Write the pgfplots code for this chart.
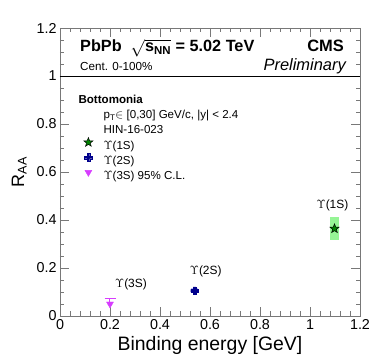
\documentclass[border=0pt]{standalone}
\usepackage{fontspec}
\setmainfont{Liberation Sans}
\usepackage{pgfplots}
\pgfplotsset{compat=1.18}
\usetikzlibrary{plotmarks}

\definecolor{frameGray}{RGB}{120,120,120}
\definecolor{oneSFill}{RGB}{0,130,0}
\definecolor{oneSBox}{RGB}{150,245,150}
\definecolor{twoSCol}{RGB}{0,0,140}
\definecolor{twoSBox}{RGB}{185,185,250}
\definecolor{threeSCol}{RGB}{215,60,255}

% filled five-point star
\pgfdeclareplotmark{fstar}{%
  \pgfpathmoveto{\pgfqpointpolar{90}{\pgfplotmarksize}}%
  \pgfpathlineto{\pgfqpointpolar{126}{0.42\pgfplotmarksize}}%
  \pgfpathlineto{\pgfqpointpolar{162}{\pgfplotmarksize}}%
  \pgfpathlineto{\pgfqpointpolar{198}{0.42\pgfplotmarksize}}%
  \pgfpathlineto{\pgfqpointpolar{234}{\pgfplotmarksize}}%
  \pgfpathlineto{\pgfqpointpolar{270}{0.42\pgfplotmarksize}}%
  \pgfpathlineto{\pgfqpointpolar{306}{\pgfplotmarksize}}%
  \pgfpathlineto{\pgfqpointpolar{342}{0.42\pgfplotmarksize}}%
  \pgfpathlineto{\pgfqpointpolar{18}{\pgfplotmarksize}}%
  \pgfpathlineto{\pgfqpointpolar{54}{0.42\pgfplotmarksize}}%
  \pgfpathclose
  \pgfusepathqfillstroke}
% thick filled cross (ROOT marker 34)
\pgfdeclareplotmark{fcross}{%
  \pgfpathmoveto{\pgfqpoint{0.35\pgfplotmarksize}{\pgfplotmarksize}}%
  \pgfpathlineto{\pgfqpoint{0.35\pgfplotmarksize}{0.35\pgfplotmarksize}}%
  \pgfpathlineto{\pgfqpoint{\pgfplotmarksize}{0.35\pgfplotmarksize}}%
  \pgfpathlineto{\pgfqpoint{\pgfplotmarksize}{-0.35\pgfplotmarksize}}%
  \pgfpathlineto{\pgfqpoint{0.35\pgfplotmarksize}{-0.35\pgfplotmarksize}}%
  \pgfpathlineto{\pgfqpoint{0.35\pgfplotmarksize}{-\pgfplotmarksize}}%
  \pgfpathlineto{\pgfqpoint{-0.35\pgfplotmarksize}{-\pgfplotmarksize}}%
  \pgfpathlineto{\pgfqpoint{-0.35\pgfplotmarksize}{-0.35\pgfplotmarksize}}%
  \pgfpathlineto{\pgfqpoint{-\pgfplotmarksize}{-0.35\pgfplotmarksize}}%
  \pgfpathlineto{\pgfqpoint{-\pgfplotmarksize}{0.35\pgfplotmarksize}}%
  \pgfpathlineto{\pgfqpoint{-0.35\pgfplotmarksize}{0.35\pgfplotmarksize}}%
  \pgfpathlineto{\pgfqpoint{-0.35\pgfplotmarksize}{\pgfplotmarksize}}%
  \pgfpathclose
  \pgfusepathqfillstroke}

\begin{document}
\begin{tikzpicture}
\useasboundingbox (-60bp,-43bp) rectangle (314bp,316bp);
\begin{axis}[
  at={(0,0)}, anchor=south west,
  scale only axis, width=300bp, height=288bp,
  xmin=0, xmax=1.2, ymin=0, ymax=1.2,
  xtick={0,0.2,0.4,0.6,0.8,1,1.2},
  ytick={0,0.2,0.4,0.6,0.8,1,1.2},
  minor x tick num=4, minor y tick num=3,
  tick align=inside,
  major tick length=9bp, minor tick length=4.5bp,
  axis line style={draw=frameGray, line width=0.8bp},
  every tick/.style={draw=frameGray, line width=0.8bp},
  tick label style={font=\fontsize{14.4}{16}\selectfont},
  /pgf/number format/assume math mode=true,
  xlabel={Binding energy [GeV]},
  xlabel style={font=\fontsize{19.5}{22}\selectfont,
                at={(axis description cs:0.5,-0.1215)}, anchor=base},
  ylabel={R\textsubscript{AA}},
  ylabel style={font=\fontsize{18}{20}\selectfont,
                at={(axis description cs:-0.12,0.5)}, anchor=base},
  clip=false,
  legend style={at={(axis description cs:0.0733,0.7765)}, anchor=north west,
                draw=none, fill=none, inner sep=0pt, row sep=0pt, column sep=0bp,
                font=\fontsize{11.6}{13}\selectfont,
                nodes={text height=10.8bp, text depth=4.2bp, inner ysep=0pt,
                       inner xsep=0pt}},
  legend cell align=left,
  legend image code/.code={%
    \path (-6bp,0) (15bp,0);
    \draw[#1] plot coordinates {(0bp,3.5bp)};},
]
%% header lines of the legend block
\addlegendimage{empty legend}
\addlegendentry{\hspace*{-25bp}\textbf{Bottomonia}}
\addlegendimage{empty legend}
\addlegendentry{p\textsubscript{T}$\in$ [0,30] GeV/c, |y| < 2.4}
\addlegendimage{empty legend}
\addlegendentry{HIN-16-023}

%% R_AA = 1 reference line
\addplot[black, line width=0.6bp, forget plot] coordinates {(0,1) (1.2,1)};

%% Upsilon(1S): systematic box + point
\addplot[draw=none, fill=oneSBox, forget plot]
  coordinates {(1.078,0.318) (1.117,0.318) (1.117,0.414) (1.078,0.414)} --cycle;
\addplot[only marks, mark=fstar, mark size=4.8bp,
         mark options={fill=oneSFill, draw=black, line width=0.5bp}]
  coordinates {(1.098,0.364)};
\addlegendentry{$\Upsilon$(1S)}

%% Upsilon(2S)
\addplot[draw=none, fill=twoSBox, forget plot]
  coordinates {(0.523,0.094) (0.553,0.094) (0.553,0.117) (0.523,0.117)} --cycle;
\addplot[only marks, mark=fcross, mark size=3.8bp,
         mark options={fill=twoSCol, draw=twoSCol, line width=0.3bp}]
  coordinates {(0.538,0.105)};
\addlegendentry{$\Upsilon$(2S)}

%% Upsilon(3S) upper limit (95% C.L.)
\addplot[threeSCol, line width=1bp, forget plot]
  coordinates {(0.179,0.072) (0.225,0.072)};
\addplot[threeSCol, line width=1bp, forget plot]
  coordinates {(0.2,0.072) (0.2,0.04)};
\addplot[only marks, mark=triangle*, mark size=4bp,
         mark options={fill=threeSCol, draw=threeSCol, rotate=180}]
  coordinates {(0.2,0.05)};
\addlegendentry{$\Upsilon$(3S) 95\% C.L.}

%% state labels
\node[anchor=base, font=\fontsize{12}{14}\selectfont] at (axis cs:1.09,0.449) {$\Upsilon$(1S)};
\node[anchor=base, font=\fontsize{12}{14}\selectfont] at (axis cs:0.583,0.171) {$\Upsilon$(2S)};
\node[anchor=base, font=\fontsize{12}{14}\selectfont] at (axis cs:0.284,0.12) {$\Upsilon$(3S)};

%% header
\node[anchor=base west, inner sep=0pt, font=\fontsize{16.3}{18}\selectfont\bfseries]
  at (axis cs:0.08,1.1)
  {PbPb \ $\sqrt{\mbox{\bfseries s}_{\mbox{\fontsize{11.5}{12}\selectfont\bfseries NN}}}$ = 5.02 TeV};
\node[anchor=base east, inner sep=0pt, font=\fontsize{16.5}{18}\selectfont\bfseries]
  at (axis cs:1.136,1.1) {CMS};
\node[anchor=base west, inner sep=0pt, font=\fontsize{11.7}{13}\selectfont]
  at (axis cs:0.08,1.021) {Cent. 0-100\%};
\node[anchor=base east, inner sep=0pt, font=\fontsize{16.5}{18}\selectfont\itshape]
  at (axis cs:1.144,1.022) {Preliminary};
\end{axis}
\end{tikzpicture}
\end{document}
